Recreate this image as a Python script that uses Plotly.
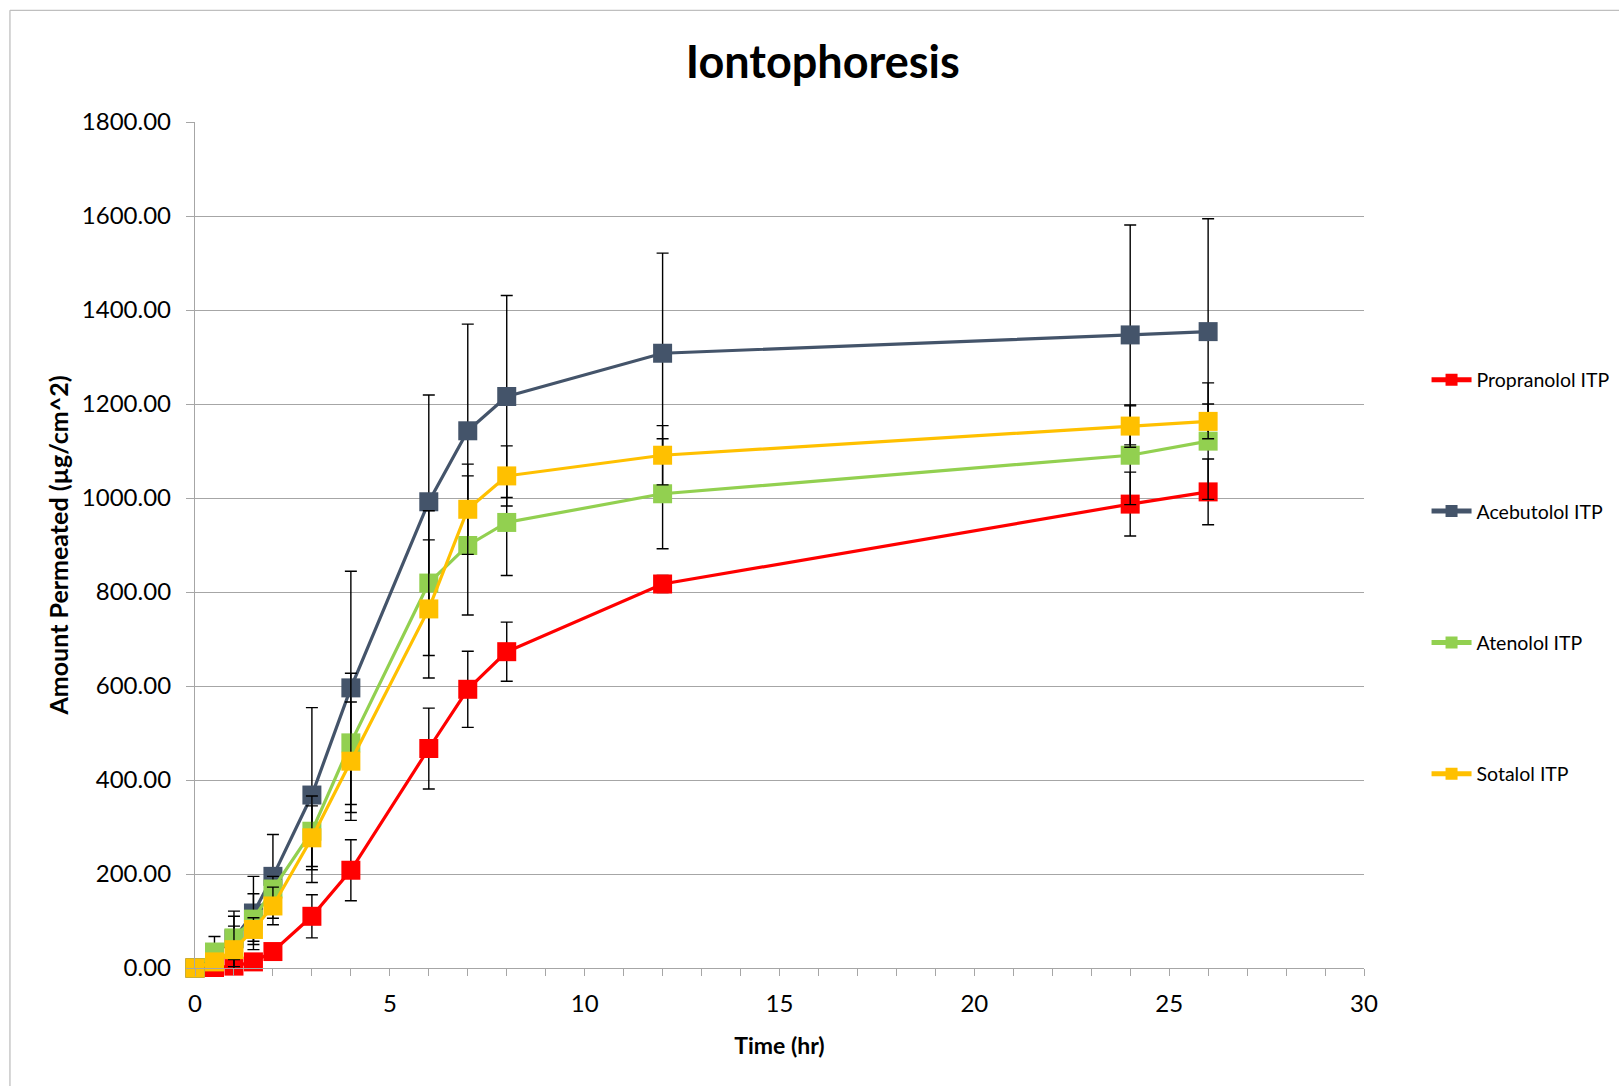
import plotly.graph_objects as go

# Sampling times (hr)
time_hr = [0, 0.5, 1, 1.5, 2, 3, 4, 6, 7, 8, 12, 24, 26]

# Cumulative amount permeated (µg/cm^2) and standard deviations
propranolol = [0, 1, 4, 13, 35, 110, 208, 467, 593, 673, 817, 987, 1013]
propranolol_sd = [0, 1, 3, 5, 8, 46, 65, 86, 81, 63, 18, 68, 70]

acebutolol = [0, 30, 62, 117, 195, 368, 596, 992, 1143, 1216, 1308, 1347, 1354]
acebutolol_sd = [0, 37, 59, 78, 89, 186, 248, 227, 227, 215, 213, 234, 240]

atenolol = [0, 34, 64, 104, 168, 291, 479, 819, 899, 948, 1009, 1091, 1121]
atenolol_sd = [0, 10, 46, 54, 27, 75, 148, 154, 148, 113, 117, 105, 124]

sotalol = [0, 13, 39, 82, 132, 277, 440, 764, 976, 1047, 1091, 1153, 1163]
sotalol_sd = [0, 8, 50, 25, 40, 68, 126, 147, 96, 64, 63, 45, 37]

series_names = ["Propranolol ITP", "Acebutolol ITP", "Atenolol ITP", "Sotalol ITP"]
series_values = [propranolol, acebutolol, atenolol, sotalol]
series_sd = [propranolol_sd, acebutolol_sd, atenolol_sd, sotalol_sd]
series_colors = ["#FF0000", "#44546A", "#92D050", "#FFC000"]

FONT = "Lato"
GRID = "#A6A6A6"

fig = go.Figure()
for i, (name, vals, sd, col) in enumerate(zip(series_names, series_values, series_sd, series_colors)):
    fig.add_trace(go.Scatter(
        x=time_hr, y=vals, name=name, mode="lines+markers",
        legendgroup=f"g{i}",
        line=dict(color=col, width=3.2),
        marker=dict(symbol="square", size=19, color=col, line=dict(width=0)),
        error_y=dict(type="data", array=sd, visible=True, color="black", thickness=1.4, width=6),
        cliponaxis=False,
    ))

fig.update_layout(
    width=1619, height=1086,
    margin=dict(l=195, r=255, t=122, b=118, autoexpand=False),
    paper_bgcolor="white", plot_bgcolor="white",
    font=dict(family=FONT, color="black"),
    title=dict(text="<b>Iontophoresis</b>", x=0.537, xref="paper", xanchor="center",
               y=1 - 62 / 1086, yref="container", yanchor="middle",
               font=dict(family=FONT, size=45, color="black")),
    showlegend=True,
    legend=dict(x=1.0535, xanchor="left", y=0.718, yanchor="top",
                font=dict(family=FONT, size=19.5, color="black"),
                itemwidth=40, itemsizing="constant",
                tracegroupgap=103, bgcolor="rgba(0,0,0,0)"),
    xaxis=dict(range=[0, 30], dtick=5, tick0=0, showgrid=False, zeroline=False,
               showline=True, linecolor=GRID, linewidth=1.3,
               ticks="outside", ticklen=7, tickcolor=GRID, tickwidth=1.3,
               minor=dict(dtick=1, ticks="outside", ticklen=7, tickcolor=GRID, tickwidth=1.3, showgrid=False),
               tickfont=dict(family=FONT, size=24), ticklabelstandoff=7,
               title=dict(text="<b>Time (hr)</b>", font=dict(family=FONT, size=23), standoff=21)),
    yaxis=dict(range=[0, 1800], dtick=200, tick0=0, tickformat=".2f",
               showgrid=True, gridcolor=GRID, gridwidth=1.3, zeroline=False,
               showline=True, linecolor=GRID, linewidth=1.3,
               ticks="outside", ticklen=8, tickcolor=GRID, tickwidth=1.3,
               tickfont=dict(family=FONT, size=24), ticklabelstandoff=10,
               title=dict(text="<b>Amount Permeated (µg/cm^2)</b>", font=dict(family=FONT, size=25), standoff=6)),
    shapes=[
        dict(type="line", xref="paper", yref="paper", x0=-0.1583, x1=-0.1583, y0=1.132, y1=-0.2,
             line=dict(color="#BFBFBF", width=1.3)),
        dict(type="line", xref="paper", yref="paper", x0=-0.1583, x1=1.3, y0=1.132, y1=1.132,
             line=dict(color="#BFBFBF", width=1.3)),
    ],
)

fig.write_html("out.html")
